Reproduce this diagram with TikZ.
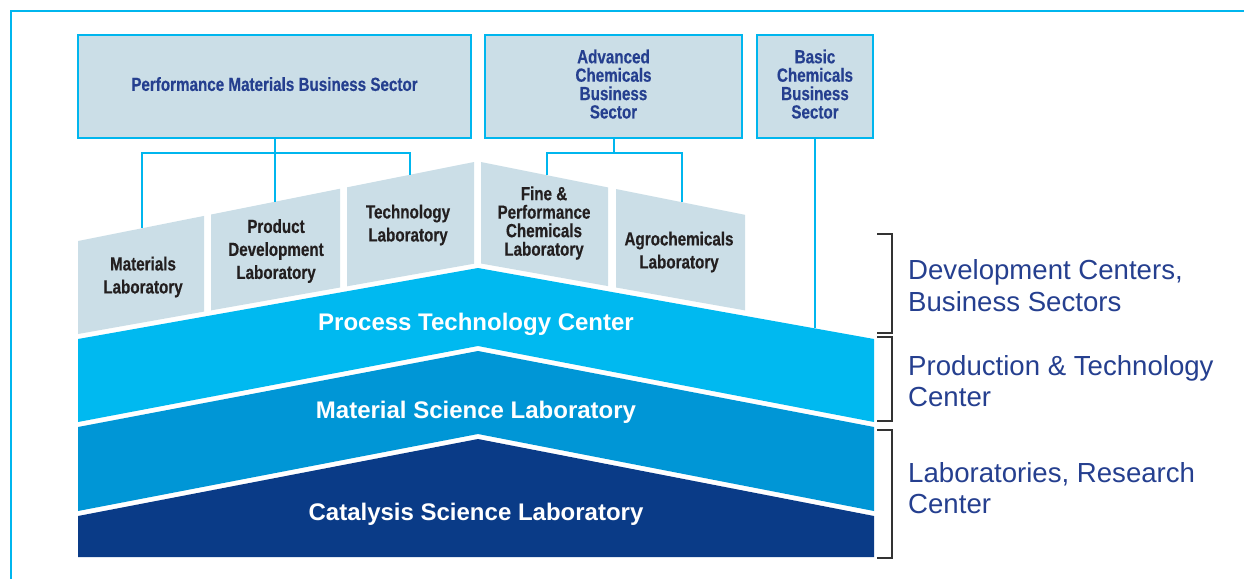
\documentclass[tikz,border=0pt]{standalone}
\usepackage{fontspec}
\setmainfont{Liberation Sans}
\newfontfamily\condbf[FakeStretch=0.8,FakeBold=0.4]{Liberation Sans}
\usetikzlibrary{positioning}
\definecolor{cyanln}{HTML}{00B6EE}
\definecolor{boxfill}{HTML}{CBDEE7}
\definecolor{navy}{HTML}{253F8F}
\definecolor{ptc}{HTML}{00B9F0}
\definecolor{msl}{HTML}{0096D6}
\definecolor{csl}{HTML}{0A3B87}
\definecolor{labtxt}{HTML}{231F20}

\begin{document}
\begin{tikzpicture}[x=1pt,y=-1pt,
  sect/.style={draw=cyanln,line width=2pt,fill=boxfill,inner sep=0pt,text=navy,align=center,text depth=5pt,
    font=\condbf\bfseries\fontsize{19}{18.4}\selectfont},
  labt/.style={text=labtxt,align=center,inner sep=0pt,font=\condbf\bfseries\fontsize{19}{23}\selectfont},
  lab/.style={fill=boxfill},
  band/.style={text=white,inner sep=0pt,font=\bfseries\fontsize{24}{28}\selectfont},
  side/.style={text=navy,align=left,anchor=west,inner sep=0pt,font=\fontsize{27.6}{31.7}\selectfont},
  link/.style={draw=cyanln,line width=2pt},
  brk/.style={draw=black!80,line width=1.2pt}]
\useasboundingbox (0,0) rectangle (1244,579);
% open frame
\draw[cyanln,line width=1.3pt] (1244,11) -- (11,11) -- (11,579);
% three stacked bands
\fill[ptc] (78,339) -- (478,268) -- (874,339) -- (874,422) -- (478,346) -- (78,422) -- cycle;
\fill[msl] (78,427) -- (478,351) -- (874,427) -- (874,511) -- (478,434) -- (78,511) -- cycle;
\fill[csl] (78,516) -- (478,439) -- (874,516) -- (874,557) -- (78,557) -- cycle;
\node[band] (ptcl) at (476,324) {Process Technology Center};
\node[band] (msll) at (476,412) {Material Science Laboratory};
\node[band] (csll) at (476,514) {Catalysis Science Laboratory};
% laboratories on the roof
\fill[lab] (78,241) -- (204,215.9) -- (204,311.6) -- (78,334) -- cycle;
\fill[lab] (211,214.5) -- (340,188.7) -- (340,287.5) -- (211,310.4) -- cycle;
\fill[lab] (347,187.3) -- (474,162) -- (474,263.7) -- (347,286.3) -- cycle;
\fill[lab] (481,162) -- (608,187.4) -- (608,286.1) -- (481,263.5) -- cycle;
\fill[lab] (616,189) -- (745,214.8) -- (745,310.4) -- (616,287.5) -- cycle;
\node[labt] (ml) at (143,277) {Materials\\Laboratory};
\node[labt] (pd) at (276,251) {Product\\Development\\Laboratory};
\node[labt] (tl) at (408,225) {Technology\\Laboratory};
\node[labt] (fp) at (544,223) {Fine \&\\[-4.5pt]Performance\\[-4.5pt]Chemicals\\[-4.5pt]Laboratory};
\node[labt] (ag) at (679,252) {Agrochemicals\\Laboratory};
\coordinate (ml-t) at (142,228.2);
\coordinate (pd-t) at (274.5,202);
\coordinate (tl-t) at (410,174.8);
\coordinate (fp-t) at (547,175.2);
\coordinate (ag-t) at (682,202.2);
\coordinate (bc-t) at (815,327.8);
% business sectors
\node[sect,minimum width=393pt,minimum height=103pt] (pm) at (274.5,86.5) {Performance Materials Business Sector};
\node[sect,minimum width=257pt,minimum height=103pt] (ac) at (613.5,86.5) {Advanced\\Chemicals\\Business\\Sector};
\node[sect,minimum width=116pt,minimum height=103pt] (bc) at (815,86.5) {Basic\\Chemicals\\Business\\Sector};
\coordinate (pmj) at (274.5,153);
\coordinate (acj) at (613.5,153);
\draw[link] (pm.south) -- (pmj) -- (pd-t);
\draw[link] (ml-t) |- (pmj) -| (tl-t);
\draw[link] (ac.south) -- (acj);
\draw[link] (fp-t) |- (acj) -| (ag-t);
\draw[link] (bc.south) -- (bc-t);
% brackets and tiers
\draw[brk] (877,234) -- (892,234) -- (892,333) -- (877,333);
\draw[brk] (877,337) -- (892,337) -- (892,421) -- (877,421);
\draw[brk] (877,430) -- (892,430) -- (892,558) -- (877,558);
\node[side] (dev) at (908,285.5) {Development Centers,\\Business Sectors};
\node[side] (prod) at (908,381) {Production \& Technology\\Center};
\node[side] (res) at (908,488) {Laboratories, Research\\Center};
\end{tikzpicture}
\end{document}
